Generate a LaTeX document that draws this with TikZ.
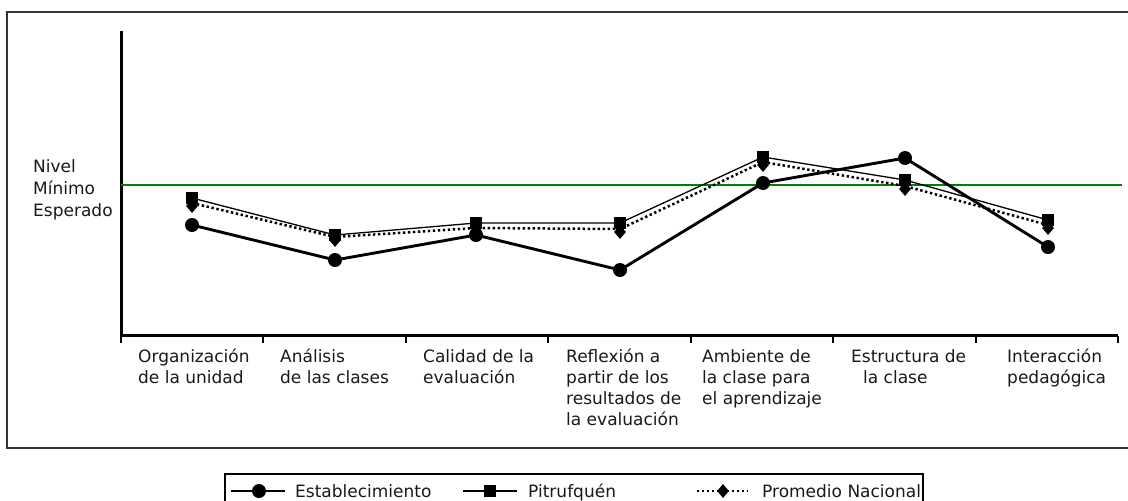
\documentclass[tikz,border=0pt]{standalone}
\usepackage{fontspec}
\setmainfont{DejaVu Sans}
\usetikzlibrary{shapes.geometric}
\begin{document}
\begin{tikzpicture}[x=1pt,y=-1pt,
  lbl/.style={font=\fontsize{17}{21}\selectfont, text=black!90, inner sep=0, anchor=north west, align=left},
  ylbl/.style={font=\fontsize{17}{22}\selectfont, text=black!90, inner sep=0, anchor=north west, align=left},
  leg/.style={font=\fontsize{17}{21}\selectfont, text=black!90, inner sep=0, anchor=base west},
  frameline/.style={line width=1.8pt, black!80},
  axisline/.style={line width=3pt, black},
  tickline/.style={line width=2pt, black},
  minline/.style={line width=1.3pt, green!50!black},
  estline/.style={line width=2.9pt, black},
  pitline/.style={line width=1.3pt, black},
  promline/.style={line width=2.5pt, black, dash pattern=on 2.4pt off 2.6pt},
  estmark/.style={circle, fill=black, inner sep=0, minimum size=14pt},
  pitmark/.style={rectangle, fill=black, inner sep=0, minimum size=12.5pt},
  prommark/.style={diamond, fill=black, inner sep=0, minimum width=12pt, minimum height=14pt},
]
\useasboundingbox (0,0) rectangle (1128,501);
\fill[white] (0,0) rectangle (1128,501);

% outer frame (right side cut off)
\draw[frameline] (1140,12) -- (7,12) -- (7,448) -- (1140,448);

% axes
\coordinate (ytop) at (121,31);
\coordinate (origin) at (121,335.5);
\coordinate (xend) at (1118,335.5);
\draw[axisline] (ytop) -- (origin) -- (xend);
\foreach \t in {121,263.4,405.9,548.3,690.7,833.1,975.6,1118}
  \draw[tickline] (\t,335.5) -- (\t,343);

% minimum level line
\coordinate (gl) at (121,185);
\coordinate (gr) at (1122,185);
\draw[minline] (gl) -- (gr);

% data points
\coordinate (e1) at (192,225);   \coordinate (p1) at (192,198);   \coordinate (n1) at (192,203);
\coordinate (e2) at (335,260);   \coordinate (p2) at (335,235);   \coordinate (n2) at (335,237);
\coordinate (e3) at (476,235);   \coordinate (p3) at (476,223);   \coordinate (n3) at (476,228);
\coordinate (e4) at (620,270);   \coordinate (p4) at (620,223);   \coordinate (n4) at (620,229);
\coordinate (e5) at (763,183);   \coordinate (p5) at (763,157);   \coordinate (n5) at (763,162);
\coordinate (e6) at (905,158);   \coordinate (p6) at (905,180);   \coordinate (n6) at (905,186);
\coordinate (e7) at (1048,247);  \coordinate (p7) at (1048,220);  \coordinate (n7) at (1048,225);

\draw[promline] (n1) -- (n2) -- (n3) -- (n4) -- (n5) -- (n6) -- (n7);
\draw[pitline] (p1) -- (p2) -- (p3) -- (p4) -- (p5) -- (p6) -- (p7);
\draw[estline] (e1) -- (e2) -- (e3) -- (e4) -- (e5) -- (e6) -- (e7);

\foreach \i in {1,...,7} {
  \node[prommark] (mn\i) at ([yshift=-3pt]n\i) {};
  \node[pitmark] (mp\i) at (p\i) {};
  \node[estmark] (me\i) at (e\i) {};
}

% y label
\node[ylbl] (ylab) at (33,157) {\strut Nivel\\Mínimo\\Esperado};

% category labels
\node[lbl] (c1) at (138,348) {\strut Organización\\de la unidad};
\node[lbl] (c2) at (280,348) {\strut Análisis\\de las clases};
\node[lbl] (c3) at (423,348) {\strut Calidad de la\\evaluación};
\node[lbl] (c4) at (566,348) {\strut Reflexión a\\partir de los\\resultados de\\la evaluación};
\node[lbl] (c5) at (702,348) {\strut Ambiente de\\la clase para\\el aprendizaje};
\node[lbl] (c6) at (851,348) {\strut Estructura de\\\hspace*{12pt}la clase};
\node[lbl] (c7) at (1007,348) {\strut Interacción\\pedagógica};

% legend
\draw[line width=1.6pt, black] (225,503) -- (225,474) -- (923,474) -- (923,503);
\coordinate (la1) at (231,491); \coordinate (lb1) at (285,491);
\coordinate (la2) at (463,491); \coordinate (lb2) at (517,491);
\coordinate (la3) at (697,491); \coordinate (lb3) at (748,491);
\draw[estline] (la1) -- (lb1);
\draw[pitline] (la2) -- (lb2);
\draw[promline] (la3) -- (lb3);
\node[estmark] (lm1) at (259,491) {};
\node[pitmark] (lm2) at (490,491) {};
\node[prommark] (lm3) at (723,491) {};
\node[leg] (lt1) at (295,497) {Establecimiento};
\node[leg] (lt2) at (528,497) {Pitrufquén};
\node[leg] (lt3) at (762,497) {Promedio Nacional};
\end{tikzpicture}
\end{document}
